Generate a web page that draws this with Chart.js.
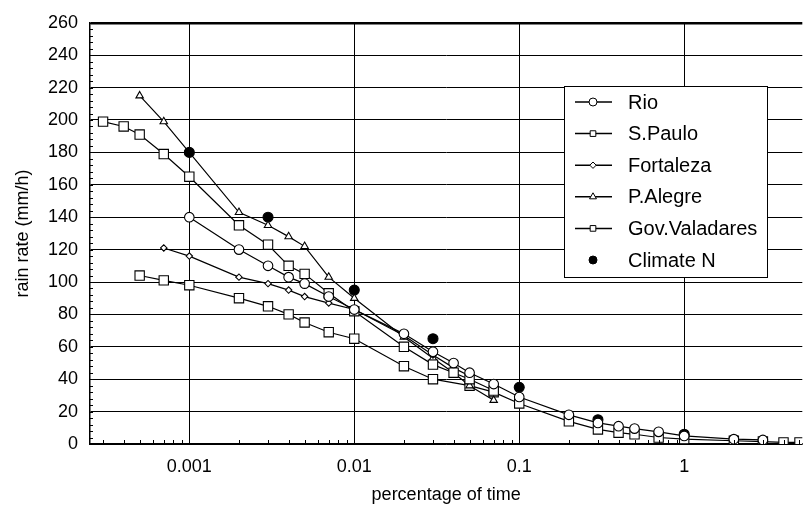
<!DOCTYPE html>
<html>
<head>
<meta charset="utf-8">
<script src="https://cdn.jsdelivr.net/npm/chart.js@4/dist/chart.umd.min.js"></script>
<style>
  html, body { margin: 0; padding: 0; background: #fff; }
  #rain { display: block; }
</style>
</head>
<body>
<canvas id="rain" width="810" height="514"></canvas>
<script>
// rain rate exceeded vs. percentage of time
const rioX = [0.001, 0.002, 0.003, 0.004, 0.005, 0.007, 0.01, 0.02, 0.03, 0.04, 0.05, 0.07, 0.1, 0.2, 0.3, 0.4, 0.5, 0.7, 1, 2, 3];
const rioY = [140, 120, 110, 103, 99, 91, 83, 68, 57, 50, 44, 37, 29, 18, 13, 11, 9.5, 7.5, 5, 3, 2.5];

const spauloX = [0.0003, 0.0004, 0.0005, 0.0007, 0.001, 0.002, 0.003, 0.004, 0.005, 0.007, 0.01, 0.02, 0.03, 0.04, 0.05, 0.07];
const spauloY = [199, 196, 191, 179, 165, 135, 123, 110, 105, 93, 82, 60, 49, 44, 40, 33];

const fortalezaX = [0.0007, 0.001, 0.002, 0.003, 0.004, 0.005, 0.007, 0.01, 0.02, 0.03, 0.04, 0.05];
const fortalezaY = [121, 116, 103, 99, 95, 91, 87, 83, 67, 55, 47, 42];

const palegreX = [0.0005, 0.0007, 0.002, 0.003, 0.004, 0.005, 0.007, 0.01, 0.02, 0.03, 0.04, 0.05, 0.07];
const palegreY = [215, 199, 143, 135, 128, 122, 103, 90, 66, 53, 44, 36, 27];

const govX = [0.0005, 0.0007, 0.001, 0.002, 0.003, 0.004, 0.005, 0.007, 0.01, 0.02, 0.03, 0.05, 0.07, 0.1, 0.2, 0.3, 0.4, 0.5, 0.7, 1, 2, 3, 4, 5];
const govY = [104, 101, 98, 90, 85, 80, 75, 69, 65, 48, 40, 36, 32, 25, 14, 9, 7, 6, 4, 3, 2, 1.5, 1, 1];

const climateX = [0.001, 0.003, 0.01, 0.03, 0.1, 0.3, 1];
const climateY = [180, 140, 95, 65, 35, 15, 6];

const xTicks = [0.001, 0.01, 0.1, 1];
const yMax = 260;

const pts = (xs, ys) => xs.map((x, i) => ({ x, y: ys[i] }));

function series(label, xs, ys, style, radius, extra) {
    return Object.assign({
        label, data: pts(xs, ys),
        borderColor: '#000', borderWidth: 1.2,
        pointStyle: style, pointRadius: radius,
        pointBackgroundColor: '#fff', pointBorderColor: '#000', pointBorderWidth: 1.1,
        tension: 0, fill: false
    }, extra || {});
}

const datasets = [
    series('Rio', rioX, rioY, 'circle', 4.8),
    series('S.Paulo', spauloX, spauloY, 'rect', 6.6),
    series('Fortaleza', fortalezaX, fortalezaY, 'rectRot', 3.2),
    series('P.Alegre', palegreX, palegreY, 'triangle', 4.3),
    series('Gov.Valadares', govX, govY, 'rect', 6.6),
    series('Climate N', climateX, climateY, 'circle', 5, { showLine: false, pointBackgroundColor: '#000' })
];

// legend box drawn inside the plot, like the original figure
const boxLegend = {
    id: 'boxLegend',
    afterDraw(chart) {
        const ctx = chart.ctx;
        const left = 564, top = 86, w = 203, h = 191, row = 31.6;
        ctx.save();
        ctx.fillStyle = '#fff';
        ctx.fillRect(left, top, w, h);
        ctx.strokeStyle = '#000';
        ctx.lineWidth = 1;
        ctx.strokeRect(left + 0.5, top + 0.5, w, h);
        ctx.font = '20px "Liberation Sans", Arial, sans-serif';
        ctx.textBaseline = 'middle';
        chart.data.datasets.forEach((ds, i) => {
            const cy = top + 16 + i * row;
            if (ds.showLine !== false) {
                ctx.beginPath();
                ctx.moveTo(left + 11, cy);
                ctx.lineTo(left + 48, cy);
                ctx.lineWidth = 1.5;
                ctx.strokeStyle = '#000';
                ctx.stroke();
            }
            ctx.fillStyle = ds.pointBackgroundColor;
            ctx.strokeStyle = '#000';
            ctx.lineWidth = 1;
            Chart.helpers.drawPoint(ctx, { pointStyle: ds.pointStyle, radius: Math.min(ds.pointRadius, 4), rotation: 0, borderWidth: 1 }, left + 29, cy);
            ctx.fillStyle = '#000';
            ctx.fillText(ds.label, left + 64, cy + 1);
        });
        ctx.restore();
    }
};

// small inward minor ticks on the axes
const minorTicks = {
    id: 'minorTicks',
    afterDatasetsDraw(chart) {
        const { ctx, chartArea: a, scales: { x, y } } = chart;
        ctx.save();
        ctx.strokeStyle = '#000';
        ctx.lineWidth = 1;
        ctx.beginPath();
        for (let d = 0.0001; d < 10; d *= 10) {
            for (let m = 2; m <= 9; m++) {
                const v = d * m;
                if (v < x.min || v > x.max) continue;
                const px = Math.round(x.getPixelForValue(v)) + 0.5;
                ctx.moveTo(px, a.bottom);
                ctx.lineTo(px, a.bottom - 4);
            }
        }
        for (let v = 0; v <= yMax; v += 4) {
            const py = Math.round(y.getPixelForValue(v)) + 0.5;
            ctx.moveTo(a.left, py);
            ctx.lineTo(a.left + 3, py);
        }
        ctx.stroke();
        ctx.restore();
    }
};

Chart.defaults.font.family = '"Liberation Sans", Arial, sans-serif';
Chart.defaults.font.size = 18;
Chart.defaults.color = '#000';

new Chart(document.getElementById('rain'), {
    type: 'line',
    data: { datasets },
    options: {
        responsive: false,
        devicePixelRatio: 1,
        animation: false,
        layout: { padding: { top: 18, right: 0, left: 0, bottom: 0 } },
        plugins: { legend: { display: false }, tooltip: { enabled: false } },
        scales: {
            x: {
                type: 'logarithmic',
                min: 0.00025, max: 5.2,
                afterBuildTicks: s => { s.ticks = xTicks.map(v => ({ value: v, major: true })); },
                afterFit: s => { s.height = 70; },
                ticks: { callback: v => String(v), padding: 12, maxRotation: 0, autoSkip: false },
                grid: { color: '#000', lineWidth: 1, drawTicks: false },
                border: { color: '#000', width: 1.5 },
                title: { display: true, text: 'percentage of time', padding: { top: 0, bottom: 8 } }
            },
            y: {
                min: 0, max: yMax,
                afterFit: s => { s.width = 90; },
                ticks: { stepSize: 20, padding: 12 },
                grid: { color: '#000', lineWidth: c => (c.tick && c.tick.value === yMax ? 2.5 : 1), drawTicks: false },
                border: { color: '#000', width: 1.5 },
                title: { display: true, text: 'rain rate (mm/h)', padding: { top: 12, bottom: 0 } }
            }
        }
    },
    plugins: [boxLegend, minorTicks]
});
</script>
</body>
</html>
